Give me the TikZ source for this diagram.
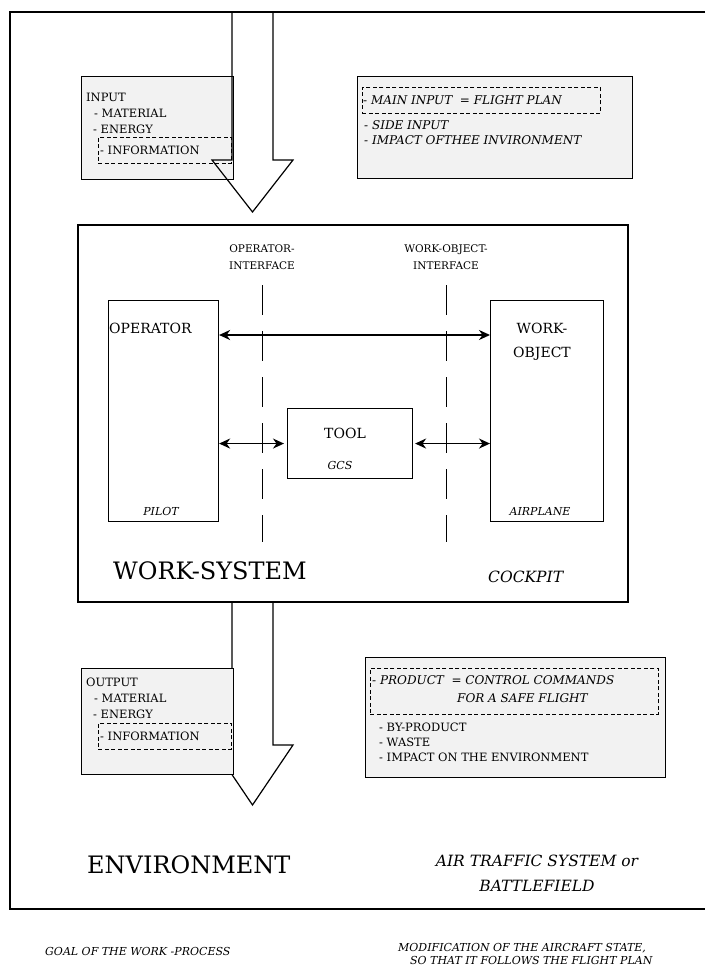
\documentclass[tikz,border=0pt]{standalone}
\usepackage{fontspec}
\setmainfont{DejaVu Serif}
\usetikzlibrary{arrows.meta,calc}
\begin{document}
\begin{tikzpicture}[x=1pt,y=-1pt,
  frameline/.style={line width=1.8pt},
  iobox/.style={draw,line width=1.3pt,fill=black!5,anchor=north west,inner sep=0pt},
  dashbox/.style={draw,line width=0.9pt,dash pattern=on 4pt off 2.5pt,anchor=north west,inner sep=0pt},
  unitbox/.style={draw,line width=1.1pt,anchor=north west,inner sep=0pt},
  txt/.style={anchor=base west,inner sep=0pt,font=\fontsize{11.5}{13}\selectfont},
  itxt/.style={anchor=base west,inner sep=0pt,font=\fontsize{12}{14}\selectfont\itshape},
  lbl/.style={anchor=base,inner sep=0pt,font=\fontsize{10.5}{12}\selectfont},
  ctxt/.style={anchor=base,inner sep=0pt,font=\fontsize{14}{16}\selectfont},
  smallit/.style={anchor=base,inner sep=0pt,font=\fontsize{11}{13}\selectfont\itshape},
  big/.style={anchor=base west,inner sep=0pt,font=\fontsize{24}{27}\selectfont},
  note/.style={anchor=base west,inner sep=0pt,font=\fontsize{11}{13}\selectfont\itshape},
  ifline/.style={line width=0.9pt,dash pattern=on 30pt off 16pt},
  dblarrow/.style={line width=1.7pt,{Stealth[length=11pt,width=10pt,inset=3.5pt]}-{Stealth[length=11pt,width=10pt,inset=3.5pt]}},
  bigarrow/.style={line width=1.2pt,line join=miter}
]
\useasboundingbox (0,0) rectangle (705,969);

% outer frame (open to the right)
\draw[frameline] (705,12) -- (10,12) -- (10,909) -- (705,909);

% ---------- input side ----------
\node[iobox,minimum width=152pt,minimum height=103pt] (inL) at (81,76) {};
\node[dashbox,minimum width=133pt,minimum height=26pt] (inLinfo) at (98,137) {};
\node[txt] (inLt) at (86,101) {INPUT};
\node[txt] (inLm) at (94,117) {- MATERIAL};
\node[txt] (inLe) at (93,133) {- ENERGY};
\node[txt] (inLi) at (100,154) {- INFORMATION};

\node[iobox,minimum width=275pt,minimum height=102pt] (inR) at (357,76) {};
\node[dashbox,minimum width=238pt,minimum height=26pt] (inRmain) at (362,87) {};
\node[itxt] (inRm) at (363,104) {- MAIN INPUT \ = FLIGHT PLAN};
\node[itxt] (inRs) at (364,129) {- SIDE INPUT};
\node[itxt] (inRi) at (364,144) {- IMPACT OFTHEE INVIRONMENT};

% input arrow
\draw[bigarrow] (232,12) -- (232,160) -- (212,160) -- (252.5,212)
  -- (293,160) -- (273,160) -- (273,12);

% ---------- work system ----------
\node[draw,line width=1.6pt,anchor=north west,inner sep=0pt,
  minimum width=550pt,minimum height=377pt] (ws) at (77,224) {};

\node[lbl] (opif1) at (262,252) {OPERATOR-};
\node[lbl] (opif2) at (262,269) {INTERFACE};
\node[lbl] (woif1) at (446,252) {WORK-OBJECT-};
\node[lbl] (woif2) at (446,269) {INTERFACE};
\coordinate (opifA) at (262,285);
\coordinate (opifB) at (262,542);
\coordinate (woifA) at (446,285);
\coordinate (woifB) at (446,542);
\draw[ifline] (opifA) -- (opifB);
\draw[ifline] (woifA) -- (woifB);

\node[unitbox,minimum width=110pt,minimum height=221pt] (op) at (108,300) {};
\node[unitbox,minimum width=113pt,minimum height=221pt] (wo) at (490,300) {};
\node[unitbox,minimum width=125pt,minimum height=70pt] (tool) at (287,408) {};

\node[anchor=base west,inner sep=0pt,font=\fontsize{14}{16}\selectfont] (opt) at (109,333) {OPERATOR};
\node[ctxt] (wot1) at (542,333) {WORK-};
\node[ctxt] (wot2) at (542,357) {OBJECT};
\node[ctxt] (toolt) at (345,438) {TOOL};
\node[smallit] (gcs) at (340,469) {GCS};
\node[smallit] (pilot) at (161,515) {PILOT};
\node[smallit] (plane) at (540,515) {AIRPLANE};

\draw[dblarrow] ($(op.north east)+(0,35)$) -- ($(wo.north west)+(0,35)$);
\draw[dblarrow] (op.east |- tool.west) -- ([xshift=-3pt]tool.west);
\draw[dblarrow] ([xshift=2pt]tool.east) -- (wo.west |- tool.east);

\node[big] (wst) at (113,579) {WORK-SYSTEM};
\node[anchor=base west,inner sep=0pt,font=\fontsize{15.5}{18}\selectfont\itshape] (cock) at (488,582) {COCKPIT};

% output arrow
\draw[bigarrow] (232,601) -- (232,745) -- (212,745) -- (252.5,805)
  -- (293,745) -- (273,745) -- (273,601);

% ---------- output side ----------
\node[iobox,minimum width=152pt,minimum height=106pt] (outL) at (81,668) {};
\node[dashbox,minimum width=133pt,minimum height=26pt] (outLinfo) at (98,723) {};
\node[txt] (outLt) at (86,686) {OUTPUT};
\node[txt] (outLm) at (94,702) {- MATERIAL};
\node[txt] (outLe) at (93,718) {- ENERGY};
\node[txt] (outLi) at (100,740) {- INFORMATION};

\node[iobox,minimum width=300pt,minimum height=120pt] (outR) at (365,657) {};
\node[dashbox,minimum width=288pt,minimum height=46pt] (outRprod) at (370,668) {};
\node[itxt] (outRp) at (372,684) {- PRODUCT \ = CONTROL COMMANDS};
\node[itxt] (outRf) at (457,702) {FOR A SAFE FLIGHT};
\node[txt] (outRb) at (379,731) {- BY-PRODUCT};
\node[txt] (outRw) at (379,746) {- WASTE};
\node[txt] (outRi) at (379,761) {- IMPACT ON THE ENVIRONMENT};

% ---------- environment ----------
\node[big] (env) at (87,873) {ENVIRONMENT};
\node[anchor=base,inner sep=0pt,font=\fontsize{15.5}{18}\selectfont\itshape] (atc1) at (537,866) {AIR TRAFFIC SYSTEM or};
\node[anchor=base,inner sep=0pt,font=\fontsize{15.5}{18}\selectfont\itshape] (atc2) at (537,891) {BATTLEFIELD};

% ---------- notes below the frame ----------
\node[note] (goal) at (45,955) {GOAL OF THE WORK -PROCESS};
\node[note] (modif1) at (398,951) {MODIFICATION OF THE AIRCRAFT STATE,};
\node[note] (modif2) at (410,964) {SO THAT IT FOLLOWS THE FLIGHT PLAN};
\end{tikzpicture}
\end{document}
